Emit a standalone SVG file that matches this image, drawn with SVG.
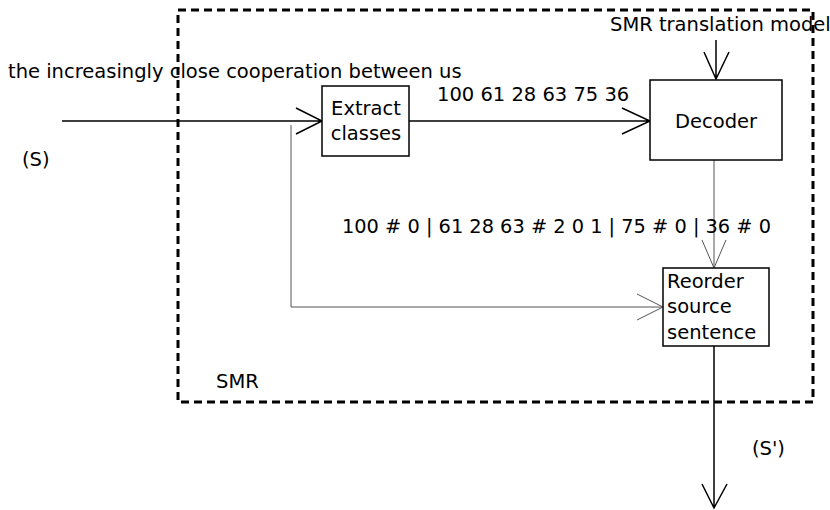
<svg xmlns="http://www.w3.org/2000/svg" width="830" height="510" viewBox="0 0 830 510">
<style>
text{font-family:"DejaVu Sans",sans-serif;font-size:19.5px;fill:#000}
.box{fill:#fff;stroke:#000;stroke-width:1.5}
.ln{fill:none;stroke:#000;stroke-width:1.5}
.gl{fill:none;stroke:#555;stroke-width:1}
</style>
<rect width="830" height="510" fill="#fff"/>
<g id="smr-frame">
<rect x="178" y="10" width="635" height="392" fill="none" stroke="#000" stroke-width="3" stroke-dasharray="8,5"/>
<text x="216" y="388">SMR</text>
</g>
<g id="connectors">
<path class="ln" d="M62,121H322M296,108L322,121L296,134"/>
<path class="ln" d="M409,121H650M622,108L650,121L622,134"/>
<path class="ln" d="M716,40V79M704,52L716,79L729,52"/>
<path class="gl" d="M714,160V268M702,240L714,268L726,240"/>
<path class="gl" d="M291,125V307H663M637,294L663,307L637,320"/>
<path class="ln" d="M714,346V508M702,484L714,508L727,484"/>
</g>
<g id="labels">
<text x="8" y="78">the increasingly close cooperation between us</text>
<text x="22" y="166">(S)</text>
<text x="437" y="101">100 61 28 63 75 36</text>
<text x="610" y="31">SMR translation model</text>
<text x="342" y="233" textLength="429" lengthAdjust="spacingAndGlyphs">100 # 0 | 61 28 63 # 2 0 1 | 75 # 0 | 36 # 0</text>
<text x="752" y="455">(S')</text>
</g>
<g id="extract">
<rect class="box" x="322" y="86" width="87" height="70"/>
<text x="366" y="115" text-anchor="middle">Extract</text>
<text x="366" y="140" text-anchor="middle">classes</text>
</g>
<g id="decoder">
<rect class="box" x="650" y="80" width="132" height="80"/>
<text x="716" y="128" text-anchor="middle">Decoder</text>
</g>
<g id="reorder">
<rect class="box" x="663" y="268" width="106" height="78"/>
<text x="667" y="288">Reorder</text>
<text x="667" y="313">source</text>
<text x="667" y="339">sentence</text>
</g>
</svg>
